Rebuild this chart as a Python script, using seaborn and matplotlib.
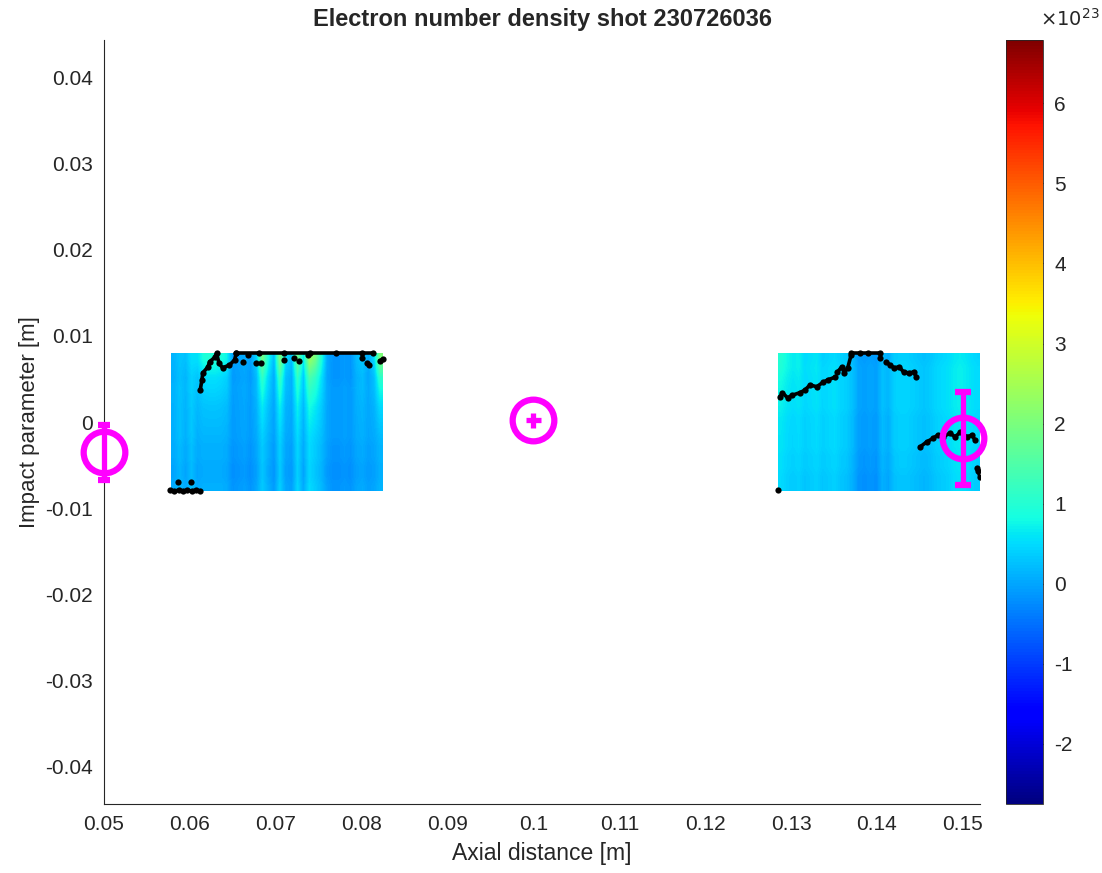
import numpy as np
import pandas as pd
import matplotlib
matplotlib.use("Agg")
import matplotlib.pyplot as plt
import seaborn as sns

# --- data (density in units of 1e23 m^-3) ---
CLIM = (-2.75, 6.79)

left_extent = (0.0578, 0.0824, -0.008, 0.008)
left_cols = [0.05, 0.2, 0.05, 0.25, 0.05, 0.1, 0.1, 0.1, 0.1, 0.05, -0.15, -0.1,
             -0.05, -0.15, 0.0, 0.35, 0.1, -0.1, 0.4, 0.0, -0.05, 0.45, 0.05, 0.5,
             0.35, 0.2, -0.05, -0.15, -0.15, -0.1, -0.15, 0.0, 0.05, -0.05, 0.0, 0.15]
left_top = [0.1, 0.1, 0.2, 0.3, 0.5, 0.8, 0.9, 0.9, 0.8, 0.7, 0.1, 0.1,
            0.1, 0.1, 0.4, 1.6, 0.8, 0.3, 1.7, 0.5, 0.3, 1.4, 0.6, 1.9,
            1.6, 0.8, 0.1, 0.0, 0.0, 0.0, 0.0, 0.2, 0.3, 0.1, 0.5, 1.9]
left_rows = [0.0, -0.05, -0.05, 0.0, 0.0, 0.05, 0.05, 0.05, 0.05, 0.05, 0.05, 0.0, 0.0, 0.0]

right_extent = (0.1285, 0.1521, -0.008, 0.008)
right_cols = [0.55, 0.45, 0.4, 0.45, 0.35, 0.4, 0.45, 0.35, 0.4, 0.45, 0.35, 0.3,
              0.15, -0.1, -0.15, -0.1, -0.15, 0.15, 0.05, 0.3, 0.35, 0.35, 0.3, 0.25,
              0.2, 0.25, 0.35, 0.4, 0.45, 0.55, 0.6, 0.55, 0.45, 0.4]
right_top = [0.4, 0.3, 0.2, 0.2, 0.1, 0.1, 0.1, 0.0, 0.0, 0.0, 0.0, 0.0,
             0.0, 0.0, 0.0, 0.0, 0.0, 0.0, 0.0, 0.0, 0.0, 0.0, 0.0, 0.0,
             0.0, 0.0, 0.0, 0.0, 0.0, 0.0, 0.0, 0.0, 0.0, 0.0]
right_rows = [-0.05, -0.05, 0.0, 0.0, 0.05, 0.05, 0.05, 0.05, 0.1, 0.1, 0.1, 0.1, 0.1, 0.05]
top_weight = [0, 0, 0, 0, 0, 0, 0.05, 0.1, 0.15, 0.25, 0.35, 0.5, 0.75, 1.0]

# boundary trace (segments of black dots)
trace_x = [
    # left patch
    0.0577, 0.0582, 0.0587, 0.0592, 0.0597, 0.0602, 0.0607, 0.0612,
    0.0612, 0.0614, 0.0615, 0.0621, 0.0623, 0.0629, 0.0631, 0.0634, 0.0638, 0.0646, 0.0652, 0.0654,
    0.0654, 0.0680, 0.0710, 0.0740, 0.0770, 0.0800, 0.0813,
    0.0821, 0.0825,
    # right patch
    0.1287, 0.1290, 0.1296, 0.1301, 0.1310, 0.1316, 0.1322, 0.1330, 0.1337, 0.1343, 0.1351,
    0.1354, 0.1359, 0.1362, 0.1366, 0.1370,
    0.1370, 0.1380, 0.1390, 0.1403,
    0.1411, 0.1415, 0.1420, 0.1426, 0.1431, 0.1437, 0.1443, 0.1446,
    0.1450, 0.1458, 0.1465, 0.1471, 0.1477, 0.1485, 0.1491, 0.1497, 0.1505, 0.1511, 0.1514,
    0.1517, 0.1518, 0.1520,
]
trace_y = [
    -0.0079, -0.0080, -0.0079, -0.0080, -0.0079, -0.0080, -0.0079, -0.0080,
    0.0037, 0.0049, 0.0057, 0.0064, 0.0070, 0.0075, 0.0080, 0.0068, 0.0063, 0.0066, 0.0072, 0.0080,
    0.0080, 0.0080, 0.0080, 0.0080, 0.0080, 0.0080, 0.0080,
    0.0071, 0.0073,
    0.0029, 0.0034, 0.0028, 0.0031, 0.0034, 0.0037, 0.0043, 0.0041, 0.0046, 0.0049, 0.0052,
    0.0058, 0.0064, 0.0057, 0.0063, 0.0078,
    0.0080, 0.0080, 0.0080, 0.0080,
    0.0070, 0.0066, 0.0063, 0.0064, 0.0058, 0.0057, 0.0058, 0.0052,
    -0.0029, -0.0023, -0.0019, -0.0015, -0.0017, -0.0013, -0.0017, -0.0012, -0.0017, -0.0015, -0.0021,
    -0.0053, -0.0057, -0.0064,
]
trace_seg = ([0] * 8 + [1] * 12 + [2] * 7 + [3] * 2 +
             [4] * 11 + [5] * 5 + [6] * 4 + [7] * 8 + [8] * 11 + [9] * 3)

# isolated dots
dot_x = [0.0586, 0.0601, 0.0662, 0.0668, 0.0677, 0.0683, 0.0710, 0.0721, 0.0727,
         0.0737, 0.0800, 0.0806, 0.0808, 0.1285, 0.1404]
dot_y = [-0.0070, -0.0070, 0.0070, 0.0078, 0.0068, 0.0069, 0.0072, 0.0074, 0.0071,
         0.0078, 0.0074, 0.0068, 0.0066, -0.0079, 0.0074]

# centroid markers with error bars
mark_x = [0.05, 0.10, 0.15]
mark_y = [-0.0035, 0.0002, -0.0019]
mark_xerr = [0.0, 0.0009, 0.0]
mark_yerr = [0.0032, 0.0009, 0.0054]
mark_cap = [4, 0, 5.5]

plt.rcParams["axes.unicode_minus"] = False
sns.set_style("white")
plt.rcParams["font.family"] = ["Liberation Sans", "DejaVu Sans"]

fig = plt.figure(figsize=(11.02, 8.73), dpi=100)
ax = fig.add_axes([0.0944, 0.0790, 0.7949, 0.8751])
cax = fig.add_axes([0.9129, 0.0790, 0.0336, 0.8751])

wt = np.array(top_weight)[:, None]
left_img = np.array(left_cols)[None, :] + np.array(left_rows)[:, None] + np.array(left_top)[None, :] * wt
right_img = np.array(right_cols)[None, :] + np.array(right_rows)[:, None] + np.array(right_top)[None, :] * wt

im = ax.imshow(left_img, extent=left_extent, origin="lower", cmap="jet",
               vmin=CLIM[0], vmax=CLIM[1], aspect="auto", interpolation="bilinear", zorder=1)
ax.imshow(right_img, extent=right_extent, origin="lower", cmap="jet",
          vmin=CLIM[0], vmax=CLIM[1], aspect="auto", interpolation="bilinear", zorder=1)

trace = pd.DataFrame({"x": trace_x, "y": trace_y, "seg": trace_seg})
sns.lineplot(data=trace, x="x", y="y", units="seg", estimator=None, sort=False,
             color="black", lw=2.6, marker="o", markersize=4.5, markeredgewidth=0, ax=ax, zorder=3)
sns.scatterplot(x=dot_x, y=dot_y, color="black", s=20, linewidth=0, ax=ax, zorder=3)

for mx, my, xe, ye, cs in zip(mark_x, mark_y, mark_xerr, mark_yerr, mark_cap):
    ax.errorbar(mx, my, xerr=xe if xe else None, yerr=ye, fmt="o", ms=30, mfc="none",
                mec="#FF00FF", mew=4.5, ecolor="#FF00FF", elinewidth=3.8,
                capsize=cs, capthick=3.8, zorder=5, clip_on=False)

ax.set_xlim(0.05, 0.1520)
ax.set_ylim(-0.0443, 0.0443)
ax.set_xticks([0.05, 0.06, 0.07, 0.08, 0.09, 0.1, 0.11, 0.12, 0.13, 0.14, 0.15])
ax.set_xticklabels(["0.05", "0.06", "0.07", "0.08", "0.09", "0.1", "0.11", "0.12", "0.13", "0.14", "0.15"])
ax.set_yticks([-0.04, -0.03, -0.02, -0.01, 0, 0.01, 0.02, 0.03, 0.04])
ax.set_yticklabels(["-0.04", "-0.03", "-0.02", "-0.01", "0", "0.01", "0.02", "0.03", "0.04"])
ax.tick_params(direction="in", length=6.5, width=0.8, labelsize=15, colors="#262626", pad=8)
sns.despine(ax=ax)
for s in ("left", "bottom"):
    ax.spines[s].set_color("#262626")
    ax.spines[s].set_linewidth(0.8)

ax.set_xlabel("Axial distance [m]", fontsize=16.5, color="#262626", labelpad=6)
ax.set_ylabel("Impact parameter [m]", fontsize=16, color="#262626", labelpad=4)
ax.set_title("Electron number density shot 230726036", fontsize=17, fontweight="bold", pad=10)

cb = fig.colorbar(im, cax=cax)
cb.set_ticks([-2, -1, 0, 1, 2, 3, 4, 5, 6])
cb.ax.tick_params(direction="in", length=5, width=0.8, labelsize=15, colors="#262626", pad=8)
cb.outline.set_linewidth(0.6)
fig.text(0.944, 0.966, r"$\times10^{23}$", fontsize=14, color="#262626", va="bottom")

fig.savefig("out.png", dpi=100)
